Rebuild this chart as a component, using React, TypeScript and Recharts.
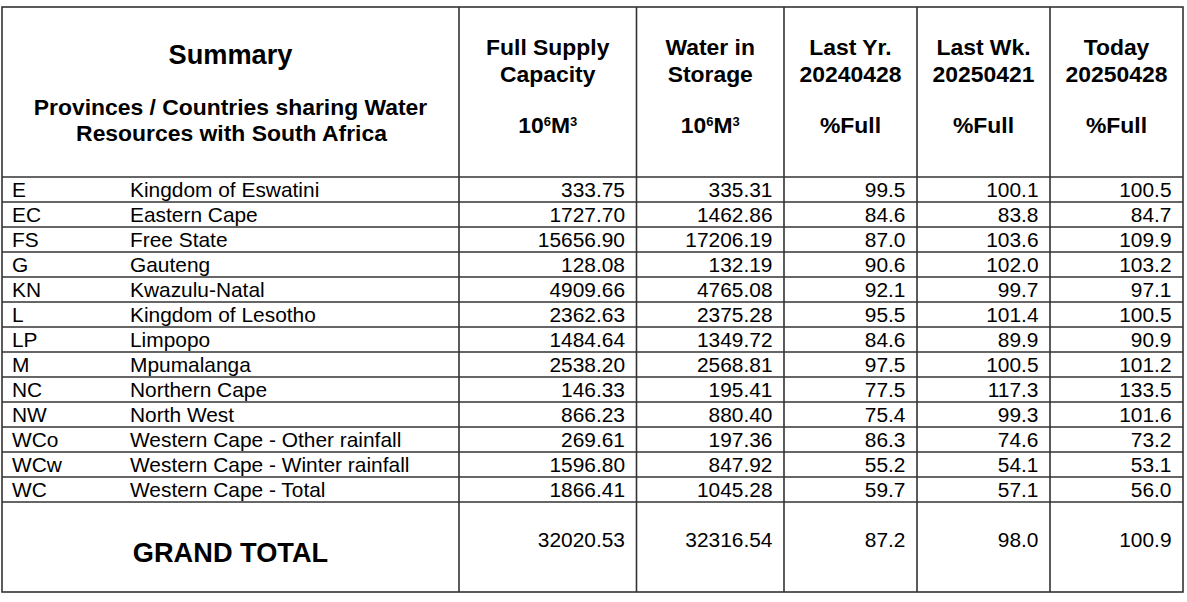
import React from "react";
import { ComposedChart, XAxis, YAxis, Bar, Customized } from "recharts";

// ---------- data ----------
const codes = ["E", "EC", "FS", "G", "KN", "L", "LP", "M", "NC", "NW", "WCo", "WCw", "WC"];
const names = [
  "Kingdom of Eswatini",
  "Eastern Cape",
  "Free State",
  "Gauteng",
  "Kwazulu-Natal",
  "Kingdom of Lesotho",
  "Limpopo",
  "Mpumalanga",
  "Northern Cape",
  "North West",
  "Western Cape - Other rainfall",
  "Western Cape - Winter rainfall",
  "Western Cape - Total",
];
const fullSupply = [333.75, 1727.7, 15656.9, 128.08, 4909.66, 2362.63, 1484.64, 2538.2, 146.33, 866.23, 269.61, 1596.8, 1866.41];
const waterInStorage = [335.31, 1462.86, 17206.19, 132.19, 4765.08, 2375.28, 1349.72, 2568.81, 195.41, 880.4, 197.36, 847.92, 1045.28];
const lastYear = [99.5, 84.6, 87.0, 90.6, 92.1, 95.5, 84.6, 97.5, 77.5, 75.4, 86.3, 55.2, 59.7];
const lastWeek = [100.1, 83.8, 103.6, 102.0, 99.7, 101.4, 89.9, 100.5, 117.3, 99.3, 74.6, 54.1, 57.1];
const today = [100.5, 84.7, 109.9, 103.2, 97.1, 100.5, 90.9, 101.2, 133.5, 101.6, 73.2, 53.1, 56.0];
const grandTotalLabel = "GRAND TOTAL";
const grandTotals = [32020.53, 32316.54, 87.2, 98.0, 100.9];

const summaryTitle = "Summary";
const summarySubtitle = ["Provinces / Countries sharing Water", "Resources with South Africa"];
const columnTitles = [
  ["Full Supply", "Capacity"],
  ["Water in", "Storage"],
  ["Last Yr.", "20240428"],
  ["Last Wk.", "20250421"],
  ["Today", "20250428"],
];
const columnUnits = ["volume", "volume", "pct", "pct", "pct"];
const decimals = [2, 2, 1, 1, 1];

const valueSeries = [fullSupply, waterInStorage, lastYear, lastWeek, today];

const rows = codes.map((code, i) => ({
  code,
  name: names[i],
  fullSupply: fullSupply[i],
  waterInStorage: waterInStorage[i],
  lastYear: lastYear[i],
  lastWeek: lastWeek[i],
  today: today[i],
}));

// ---------- layout ----------
const W = 1187;
const H = 602;
const LEFT = 2;
const RIGHT = 1183;
const TOP = 7;
const HEADER_BOTTOM = 177;
const ROWS_BOTTOM = 502;
const BOTTOM = 592;
const COL_X = [LEFT, 459, 636.5, 784, 917, 1050, RIGHT];
const PAD_RIGHT = 11.5;
const FONT = "'Liberation Sans', Arial, Helvetica, sans-serif";
const LINE = "#333";
const LW = 1.6;
const BODY_SIZE = 20.9;
const HEAD_SIZE = 22.9;
const BIG_SIZE = 27.2;

const renderRowTick = (props: any) => {
  const { y, payload } = props;
  const i = codes.indexOf(String(payload && payload.value));
  if (i < 0 || y == null || isNaN(Number(y))) return <g />;
  const yy = Number(y);
  const base = yy + 7.6;
  return (
    <g key={`row-${i}`}>
      <text x={12} y={base} fontFamily={FONT} fontSize={BODY_SIZE} fill="#000">
        {codes[i]}
      </text>
      <text x={130} y={base} fontFamily={FONT} fontSize={BODY_SIZE} fill="#000">
        {names[i]}
      </text>
      {valueSeries.map((arr, j) => (
        <text
          key={j}
          x={COL_X[j + 2] - PAD_RIGHT}
          y={base}
          fontFamily={FONT}
          fontSize={BODY_SIZE}
          textAnchor="end"
          fill="#000"
        >
          {arr[i].toFixed(decimals[j])}
        </text>
      ))}
      <line x1={LEFT} x2={RIGHT} y1={yy + 12.5} y2={yy + 12.5} stroke={LINE} strokeWidth={LW} />
    </g>
  );
};

const TableFrame = () => {
  const c0 = (COL_X[0] + COL_X[1]) / 2;
  return (
    <g fontFamily={FONT} fill="#000">
      <rect x={LEFT} y={TOP} width={RIGHT - LEFT} height={BOTTOM - TOP} fill="none" stroke={LINE} strokeWidth={LW} />
      {COL_X.slice(1, -1).map((x, k) => (
        <line key={k} x1={x} x2={x} y1={TOP} y2={BOTTOM} stroke={LINE} strokeWidth={LW} />
      ))}
      <line x1={LEFT} x2={RIGHT} y1={HEADER_BOTTOM} y2={HEADER_BOTTOM} stroke={LINE} strokeWidth={LW} />
      <text x={c0} y={64} textAnchor="middle" fontWeight="bold" fontSize={BIG_SIZE}>
        {summaryTitle}
      </text>
      <text x={c0} y={115} textAnchor="middle" fontWeight="bold" fontSize={HEAD_SIZE}>
        {summarySubtitle[0]}
      </text>
      <text x={c0 + 1} y={140.5} textAnchor="middle" fontWeight="bold" fontSize={HEAD_SIZE}>
        {summarySubtitle[1]}
      </text>
      {columnTitles.map((lines, j) => {
        const cx = (COL_X[j + 1] + COL_X[j + 2]) / 2;
        return (
          <g key={j} fontWeight="bold" fontSize={HEAD_SIZE}>
            <text x={cx} y={55} textAnchor="middle">
              {lines[0]}
            </text>
            <text x={cx} y={81.7} textAnchor="middle">
              {lines[1]}
            </text>
            {columnUnits[j] === "volume" ? (
              <text x={cx} y={133.3} textAnchor="middle">
                10
                <tspan fontSize={13} dy={-7.5}>
                  6
                </tspan>
                <tspan dy={7.5}>M</tspan>
                <tspan fontSize={13} dy={-7.5}>
                  3
                </tspan>
              </text>
            ) : (
              <text x={cx} y={133.3} textAnchor="middle">
                %Full
              </text>
            )}
          </g>
        );
      })}
      <text x={c0} y={561.7} textAnchor="middle" fontWeight="bold" fontSize={BIG_SIZE}>
        {grandTotalLabel}
      </text>
      {grandTotals.map((v, j) => (
        <text key={j} x={COL_X[j + 2] - PAD_RIGHT} y={547} textAnchor="end" fontSize={BODY_SIZE}>
          {v.toFixed(decimals[j])}
        </text>
      ))}
    </g>
  );
};

export default function App() {
  return (
    <div style={{ position: "absolute", left: 0, top: 0, width: W, height: H, background: "#fff" }}>
      <ComposedChart
        width={W}
        height={H}
        data={rows}
        layout="vertical"
        margin={{ top: HEADER_BOTTOM, bottom: H - ROWS_BOTTOM, left: LEFT, right: W - RIGHT }}
      >
        <XAxis type="number" dataKey="today" hide domain={[0, 150]} />
        <YAxis
          type="category"
          dataKey="code"
          width={1}
          axisLine={false}
          tickLine={false}
          interval={0}
          tick={renderRowTick}
        />
        <Bar dataKey="today" fill="transparent" isAnimationActive={false} />
        <Customized component={<TableFrame />} />
      </ComposedChart>
    </div>
  );
}
